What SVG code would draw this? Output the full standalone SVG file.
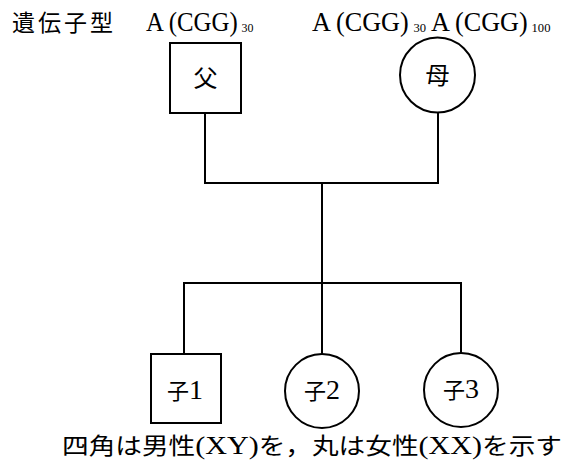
<svg xmlns="http://www.w3.org/2000/svg" width="564" height="462" viewBox="0 0 564 462">
<style>
.shape{fill:#fff;stroke:#000;stroke-width:2}
.line{fill:none;stroke:#000;stroke-width:2}
.jp{font-family:"Noto Sans CJK JP","Noto Sans",sans-serif;fill:#000}
.lat{font-family:"Liberation Serif","DejaVu Serif",serif;fill:#000;font-size:27px}
.mix{font-family:"Liberation Serif","Noto Sans CJK JP",serif;fill:#000}
.sub{font-size:13px}
.kid{font-size:22px}
.num{font-size:28px}
</style>
<rect width="564" height="462" fill="#fff"/>
<g id="labels">
<text class="jp" x="12" y="31" font-size="23" textLength="101" lengthAdjust="spacing">遺伝子型</text>
<text class="lat" transform="translate(146 31) scale(0.92 1)">A (CGG)<tspan class="sub" dx="4" dy="1">30</tspan></text>
<text class="lat" transform="translate(312 31) scale(0.97 1)">A (CGG)<tspan class="sub" dx="5" dy="1">30</tspan><tspan dx="5" dy="-1">A (CGG)</tspan><tspan class="sub" dx="4" dy="1">100</tspan></text>
<text class="mix" x="62" y="454" font-size="26" textLength="500" lengthAdjust="spacingAndGlyphs"><tspan class="jp" font-size="23">四角は男性</tspan>(XY)<tspan class="jp" font-size="23">を，丸は女性</tspan>(XX)<tspan class="jp" font-size="23">を示す</tspan></text>
</g>
<g id="connectors">
<path class="line" d="M205 113 V183 M438 112 V183 M204 183 H439 M322 183 V283 M183 283 H462 M184 283 V354 M322 283 V354 M461 283 V353"/>
</g>
<g id="father">
<rect class="shape" x="170" y="43" width="71" height="70"/>
<text class="jp" x="205.5" y="87" font-size="24" text-anchor="middle">父</text>
</g>
<g id="mother">
<circle class="shape" cx="437.5" cy="75" r="37.5"/>
<text class="jp" x="437.5" y="84" font-size="24" text-anchor="middle">母</text>
</g>
<g id="child1">
<rect class="shape" x="151" y="354" width="70" height="69"/>
<text class="mix" x="185" y="399" text-anchor="middle"><tspan class="jp kid">子</tspan><tspan class="num">1</tspan></text>
</g>
<g id="child2">
<circle class="shape" cx="322" cy="391" r="37"/>
<text class="mix" x="322" y="399" text-anchor="middle"><tspan class="jp kid">子</tspan><tspan class="num">2</tspan></text>
</g>
<g id="child3">
<circle class="shape" cx="461" cy="390" r="37"/>
<text class="mix" x="461" y="398" text-anchor="middle"><tspan class="jp kid">子</tspan><tspan class="num">3</tspan></text>
</g>
</svg>
